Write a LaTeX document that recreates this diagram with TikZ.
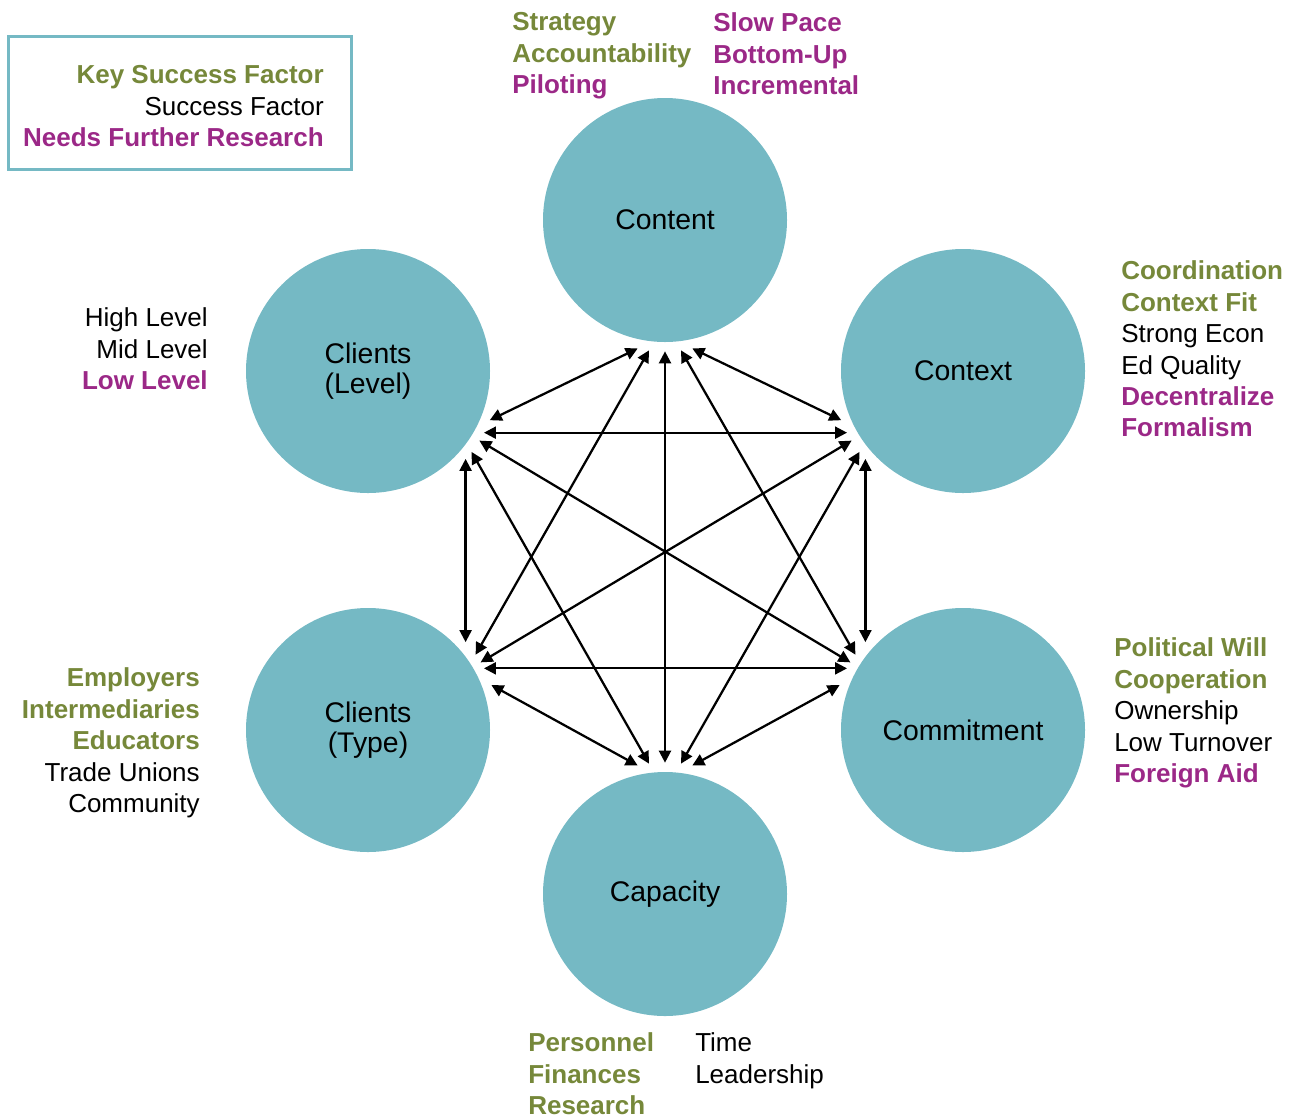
\documentclass[tikz,border=0pt]{standalone}
\usepackage{fontspec}
\setmainfont{Liberation Sans}
\usetikzlibrary{arrows.meta}
\definecolor{hubblue}{RGB}{117,185,196}
\definecolor{keygreen}{RGB}{118,136,58}
\definecolor{needpurple}{RGB}{155,40,135}
\newcommand{\keyf}[1]{{\color{keygreen}\bfseries #1}}
\newcommand{\needf}[1]{{\color{needpurple}\bfseries #1}}

\begin{document}
\begin{tikzpicture}[x=0.75pt,y=-0.75pt,
	hub/.style={circle,fill=hubblue,minimum size=183pt,inner sep=0pt,outer sep=7pt,align=center,font=\fontsize{21.3}{22.5}\selectfont},
	note/.style={inner sep=0pt,font=\fontsize{19.5}{23.6}\selectfont},
	link/.style={{Triangle[length=9pt,width=9pt]}-{Triangle[length=9pt,width=9pt]},line width=1.7pt}]
			%%%%% START %%%%%
			\useasboundingbox (0,0) rectangle (1296,1115);
			
			% legend
			\draw[line width=2.25pt, color=hubblue] (8,36) rectangle (351,169);
			\node[note, anchor=north east, align=right] (legend) at (324,65.5) {\keyf{Key Success Factor}\\Success Factor\\\needf{Needs Further Research}};
			
			% the six circles
			\node[hub] (content) at (665,220) {Content};
			\node[hub] (context) at (963,371) {Context};
			\node[hub] (cllevel) at (368,371) {Clients\\(Level)};
			\node[hub] (cltype) at (368,730) {Clients\\(Type)};
			\node[hub] (commit) at (963,730) {Commitment};
			\node[hub] (capacity) at (665,894) {Capacity};
			
			% factors round each circle
			\node[note, anchor=north west, align=left] (contentA) at (512,12.5) {\keyf{Strategy}\\\keyf{Accountability}\\\needf{Piloting}};
			\node[note, anchor=north west, align=left] (contentB) at (713,12.5) {\needf{Slow Pace}\\\needf{Bottom-Up}\\\needf{Incremental}};
			\node[note, anchor=north west, align=left] (contextA) at (1121,260.5) {\keyf{Coordination}\\\keyf{Context Fit}\\Strong Econ\\Ed Quality\\\needf{Decentralize}\\\needf{Formalism}};
			\node[note, anchor=north east, align=right] (cllevelA) at (208,307.5) {High Level\\Mid Level\\\needf{Low Level}};
			\node[note, anchor=north west, align=left] (commitA) at (1114,637.5) {\keyf{Political Will}\\\keyf{Cooperation}\\Ownership\\Low Turnover\\\needf{Foreign Aid}};
			\node[note, anchor=north east, align=right] (cltypeA) at (200,667.5) {\keyf{Employers}\\\keyf{Intermediaries}\\\keyf{Educators}\\Trade Unions\\Community};
			\node[note, anchor=north west, align=left] (capacityA) at (528,1032.5) {\keyf{Personnel}\\\keyf{Finances}\\\keyf{Research}};
			\node[note, anchor=north west, align=left] (capacityB) at (695,1032.5) {Time\\Leadership};
			
			% every pair linked
			\draw[link] (content.258) -- (cllevel.338);
			\draw[link] (content.263) -- (cltype.35);
			\draw[link] (content.270) -- (capacity.90);
			\draw[link] (content.277) -- (commit.145);
			\draw[link] (content.282) -- (context.202);
			\draw[link] (cllevel.332) -- (context.208);
			\draw[link] (cllevel.318) -- (cltype.42);
			\draw[link] (cllevel.328) -- (commit.149);
			\draw[link] (cllevel.322) -- (capacity.97);
			\draw[link] (context.212) -- (cltype.31);
			\draw[link] (context.218) -- (capacity.83);
			\draw[link] (context.222) -- (commit.138);
			\draw[link] (cltype.28) -- (commit.152);
			\draw[link] (cltype.20) -- (capacity.102);
			\draw[link] (commit.160) -- (capacity.78);
			
			%%%%% END %%%%%
		\end{tikzpicture}
\end{document}
